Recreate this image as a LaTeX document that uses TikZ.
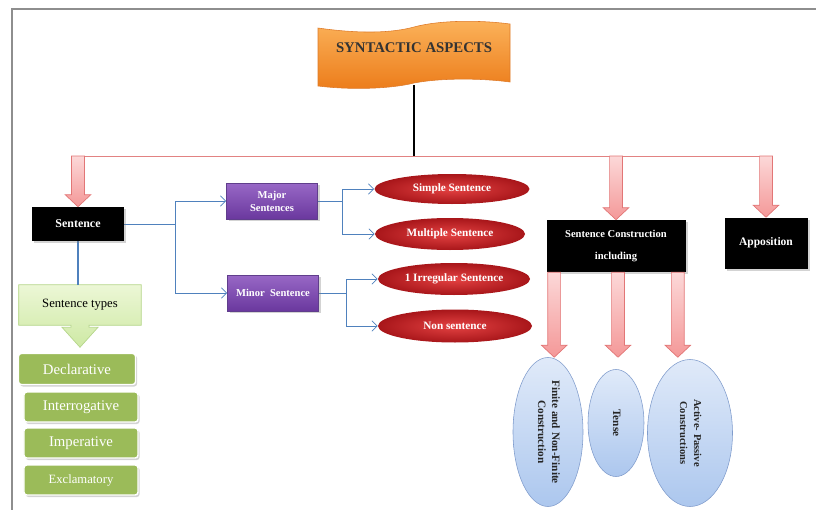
\documentclass[tikz,border=0pt]{standalone}
\usepackage{fontspec}
\usepackage{graphicx}
\setmainfont{Liberation Serif}
\usetikzlibrary{arrows.meta,shapes.geometric,shadows,calc,backgrounds}
\definecolor{framegray}{RGB}{142,142,142}
\definecolor{redlinec}{RGB}{226,130,130}
\definecolor{pinklight}{RGB}{252,216,216}
\definecolor{pinkfill}{RGB}{244,152,152}
\definecolor{pinkline}{RGB}{226,118,118}
\definecolor{blueconn}{RGB}{79,129,189}
\definecolor{purpletop}{RGB}{152,104,198}
\definecolor{purplebot}{RGB}{106,56,158}
\definecolor{purpleline}{RGB}{96,62,140}
\definecolor{redin}{RGB}{228,66,66}
\definecolor{redout}{RGB}{168,22,26}
\definecolor{bluelight}{RGB}{224,234,249}
\definecolor{bluedark}{RGB}{172,199,238}
\definecolor{blueline}{RGB}{128,156,204}
\definecolor{typestop}{RGB}{236,247,214}
\definecolor{typesbot}{RGB}{206,233,164}
\definecolor{typesline}{RGB}{182,214,140}
\definecolor{olivegreen}{RGB}{155,187,89}
\definecolor{bannertop}{RGB}{251,178,90}
\definecolor{bannerbot}{RGB}{236,124,26}
\definecolor{bannerline}{RGB}{222,122,40}
\tikzset{%
  >={Straight Barb[length=1.3mm,width=2.6mm]},
            base/.style = {rectangle, inner sep=1pt, align=center, text centered},
  blackbox/.style = {base, fill=black, text=white,
                     font=\fontsize{8.5}{10}\selectfont\bfseries,
                     drop shadow={shadow xshift=0.5mm, shadow yshift=-0.5mm, opacity=0.35}},
  purplebox/.style = {base, top color=purpletop, bottom color=purplebot, draw=purpleline,
                      text=white, font=\fontsize{7.5}{9.2}\selectfont\bfseries,
                      minimum width=22.75mm, minimum height=9mm,
                      drop shadow={shadow xshift=0.5mm, shadow yshift=-0.5mm, opacity=0.35}},
  redoval/.style = {ellipse, inner sep=0pt, inner color=redin, outer color=redout,
                    text=white, font=\fontsize{8}{9}\selectfont\bfseries},
  blueoval/.style = {ellipse, inner sep=0pt, top color=bluelight,
                     bottom color=bluedark, draw=blueline,
                     text=black!85, font=\fontsize{8}{10}\selectfont\bfseries},
  typesbox/.style = {base, minimum width=30.5mm, minimum height=10mm,
                     font=\fontsize{9}{10}\selectfont},
  greenbox/.style = {base, rounded corners=2pt, fill=olivegreen, draw=white, line width=1pt,
                     text=white, font=\fontsize{10.5}{12}\selectfont,
                     minimum width=28.5mm, minimum height=7.5mm,
                     drop shadow={shadow xshift=0.4mm, shadow yshift=-0.5mm, opacity=0.35}},
  titletext/.style = {base, minimum width=47.5mm, minimum height=18.5mm,
                      font=\fontsize{10.5}{12}\selectfont\bfseries, text=black!80},
  banner/.style = {top color=bannertop, bottom color=bannerbot, draw=bannerline, line width=0.4pt},
  frame/.style = {draw=framegray, line width=1.2pt},
  redline/.style = {draw=redlinec, line width=0.7pt},
  titleline/.style = {draw=black, line width=0.9pt},
  bluearr/.style = {draw=blueconn, line width=0.6pt, ->},
  typesconn/.style = {draw=blueconn, line width=1.4pt},
  pinkarr/.style = {top color=pinklight, bottom color=pinkfill, draw=pinkline, line width=0.5pt},
  typesfill/.style = {top color=typestop, bottom color=typesbot, draw=typesline, line width=0.5pt},
}
% block arrow pointing down from #1 to #2
\newcommand{\pinkarrow}[2]{%
  \shade[pinkarr] let \p1=(#1), \p2=(#2) in
    (\x1-1.6mm,\y1) -- (\x1+1.6mm,\y1) -- (\x1+1.6mm,\y2+3mm) -- (\x1+3.2mm,\y2+3mm)
    -- (\x1,\y2) -- (\x1-3.2mm,\y2+3mm) -- (\x1-1.6mm,\y2+3mm) -- cycle;}
% text turned to read from top to bottom
\newcommand{\downtext}[1]{\rotatebox{-90}{\begin{tabular}{@{}c@{}}#1\end{tabular}}}

\begin{document}
\begin{tikzpicture}[x=0.25mm, y=-0.25mm]
  \useasboundingbox (0,0) rectangle (816,510);
  \draw[frame] (12,510) -- (12,9) -- (816,9);

  % title banner
  \shade[banner] (318,28) .. controls (360,34) and (392,33) .. (414,27)
    .. controls (440,20) and (480,20) .. (510,24) -- (510,82)
    .. controls (480,78) and (440,78) .. (414,83)
    .. controls (390,89) and (350,90) .. (318,86) -- cycle;
  \node (title)   [titletext]  at (414,48)  {SYNTACTIC ASPECTS};
  \coordinate (rl) at (414,156);

  \node (sent)    [blackbox, minimum width=22.75mm, minimum height=8.5mm] at (78,224) {Sentence};
  \node (major)   [purplebox]  at (272,201) {Major\\Sentences};
  \node (minor)   [purplebox]  at (273,293) {Minor\ \ Sentence};

  \node (simple)  [redoval, minimum width=38.75mm, minimum height=7.5mm]  at (452,189) {Simple Sentence};
  \node (multi)   [redoval, minimum width=37.5mm,  minimum height=8mm]    at (450,234) {Multiple Sentence};
  \node (irreg)   [redoval, minimum width=38mm,    minimum height=8mm]    at (454,279) {1 Irregular Sentence};
  \node (nonsent) [redoval, minimum width=38.5mm,  minimum height=8.25mm] at (455,326) {Non sentence};

  \node (cons)    [blackbox, minimum width=34.75mm, minimum height=13mm,
                   font=\fontsize{7.5}{9}\selectfont\bfseries] at (616,246) {Sentence Construction\\[7pt]including};
  \node (appo)    [blackbox, minimum width=20.75mm, minimum height=12.75mm,
                   font=\fontsize{8.2}{10}\selectfont\bfseries] at (766,243) {Apposition};

  \node (fin)     [blueoval, minimum width=17.5mm, minimum height=37.25mm]  at (548,432) {\downtext{Finite and Non-Finite\\Construction}};
  \node (tense)   [blueoval, minimum width=14mm,   minimum height=26.75mm]  at (616,423) {\downtext{Tense}};
  \node (active)  [blueoval, minimum width=21.25mm, minimum height=36.75mm,
                   font=\fontsize{7.5}{10}\selectfont\bfseries] at (690,433) {\downtext{Active- Passive\\Constructions}};

  \node (types)   [typesbox]   at (80,305)  {Sentence types};
  \node (decl)    [greenbox, minimum width=29.25mm, minimum height=7.75mm] at (77,369) {Declarative};
  \node (inter)   [greenbox]   at (81,407)  {Interrogative};
  \node (imper)   [greenbox]   at (81,443)  {Imperative};
  \node (excl)    [greenbox, font=\fontsize{9}{10}\selectfont] at (81,480) {Exclamatory};

  \begin{scope}[on background layer]
    \shade[typesfill] (types.north west) -- (types.north east) -- (types.south east)
      -- ($(types.south)+(9,0)$) -- ++(0,2) -- ++(9,0) -- ($(types.south)+(0,22)$)
      -- ++(-18,-20) -- ++(9,0) -- ++(0,-2) -- (types.south west) -- cycle;
    \draw[titleline] (title.south) -- (title.south |- rl);
    \draw[redline] (sent.north |- rl) -- (appo.north |- rl);
    \draw[typesconn] (sent.south) -- (sent.south |- types.north);
    \draw[bluearr] (sent.east) -- ++(52,0) |- (major.west);
    \draw[bluearr] (sent.east) -- ++(52,0) |- (minor.west);
    \draw[bluearr] (major.east) -- ++(25,0) |- (simple.west);
    \draw[bluearr] (major.east) -- ++(25,0) |- (multi.west);
    \draw[bluearr] (minor.east) -- ++(28,0) |- (irreg.west);
    \draw[bluearr] (minor.east) -- ++(28,0) |- (nonsent.west);
  \end{scope}

  \pinkarrow{sent.north |- rl}{sent.north};
  \pinkarrow{cons.north |- rl}{cons.north};
  \pinkarrow{appo.north |- rl}{appo.north};

  \coordinate (c1) at ($(cons.south west)+(8,0)$);
  \coordinate (c2) at ($(cons.south)+(2,0)$);
  \coordinate (c3) at ($(cons.south east)+(-8,0)$);
  \pinkarrow{c1}{c1 |- fin.north};
  \pinkarrow{c2}{c2 |- fin.north};
  \pinkarrow{c3}{c3 |- fin.north};
\end{tikzpicture}
\end{document}
